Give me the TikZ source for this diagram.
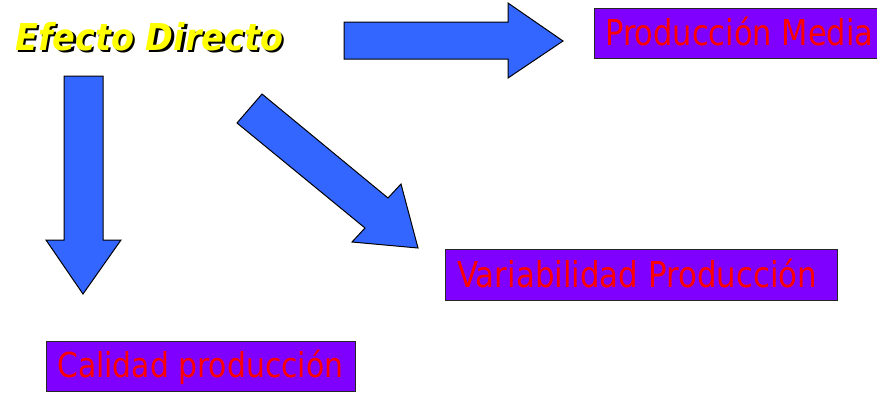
\documentclass[tikz,border=0pt]{standalone}
\usepackage{fontspec}
\setmainfont{DejaVu Sans}
\usepackage{graphicx}
\definecolor{arrowblue}{HTML}{3366FF}
\definecolor{boxviolet}{HTML}{7F00FF}
\definecolor{txtred}{HTML}{FF0000}
\definecolor{ttlyellow}{HTML}{FFFF00}
\newcommand{\fittext}[3]{\resizebox{#1}{#2}{\smash{\fontsize{36}{36}\selectfont #3}\vphantom{\fontsize{36}{36}\selectfont X}}}
\newcommand{\shadowtitle}[1]{\rlap{\kern2.5pt\raisebox{-2.5pt}{\color{black}#1}}#1}
\begin{document}
\begin{tikzpicture}[x=1pt,y=-1pt,
  blockarrow/.style={draw=black, line width=1pt, fill=arrowblue, line join=miter},
  valuebox/.style={draw=black!85, line width=1.2pt, fill=boxviolet, inner sep=0pt, anchor=north west},
  boxlabel/.style={text=txtred, inner sep=0pt, anchor=base west},
  titlelabel/.style={inner sep=0pt, anchor=base west, text=ttlyellow}]
\useasboundingbox (0,0) rectangle (877,392);
% title with shadow
\node[titlelabel] (title) at (15,50) {\shadowtitle{\fittext{268pt}{27pt}{\bfseries\itshape Efecto Directo}}};
% boxes
\node[valuebox, minimum width=283, minimum height=50] (media) at (594,8) {};
\node[boxlabel] (medialbl) at (605,45) {\fittext{268pt}{26pt}{Producción Media}};
\node[valuebox, minimum width=392, minimum height=51] (varia) at (445,249) {};
\node[boxlabel] (varialbl) at (457,287) {\fittext{360pt}{26pt}{Variabilidad Producción}};
\node[valuebox, minimum width=309, minimum height=50] (calidad) at (46,341) {};
\node[boxlabel] (calidadlbl) at (57,377) {\fittext{286pt}{25pt}{Calidad producción}};
% block arrows
\draw[blockarrow] (344,22) -- (508,22) -- (508,3) -- (563,41) -- (508,78) -- (508,59) -- (344,59) -- cycle;
\draw[blockarrow] (262,94) -- (237,123) -- (365,228) -- (352,242) -- (418,248) -- (401,184) -- (388,198) -- cycle;
\draw[blockarrow] (64,76) -- (103,76) -- (103,240) -- (121,240) -- (83,294) -- (46,240) -- (64,240) -- cycle;
\end{tikzpicture}
\end{document}
